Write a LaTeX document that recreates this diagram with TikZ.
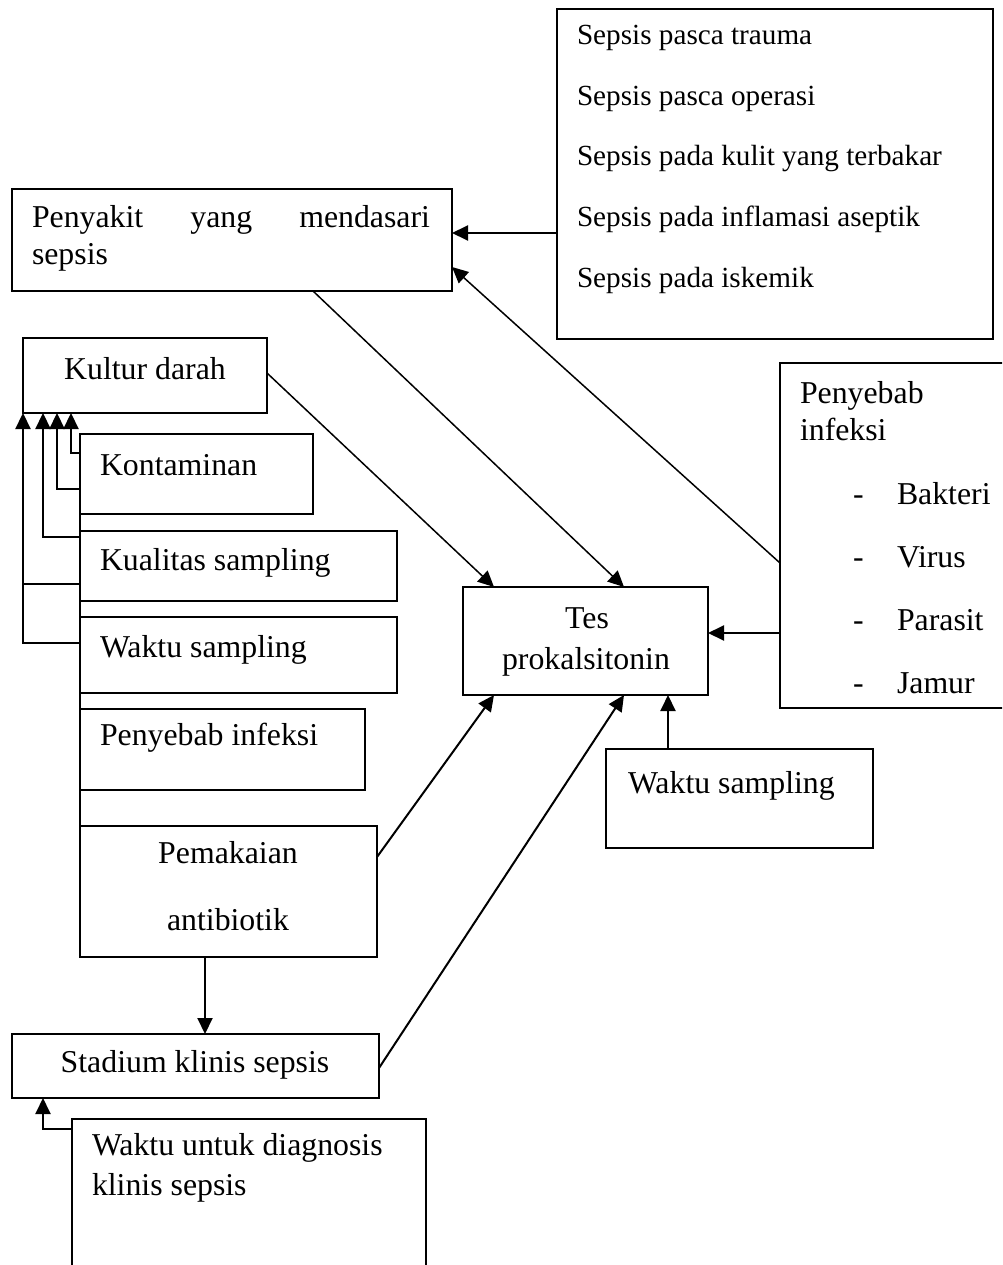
\documentclass[tikz,border=0pt]{standalone}
\usepackage{fontspec}
\setmainfont{Liberation Serif}
\usetikzlibrary{arrows.meta}

\newcommand\mainsz{\fontsize{31.8pt}{40pt}\selectfont}
\newcommand\listsz{\fontsize{29.2pt}{36pt}\selectfont}

\tikzset{
  frame/.style={draw, line width=1.6pt, inner sep=0pt, outer sep=0pt, anchor=north west},
  txt/.style={inner sep=0pt, outer sep=0pt, anchor=base west, font=\mainsz},
  txtc/.style={txt, anchor=base},
  listtxt/.style={txt, font=\listsz},
  tip/.style={-{Triangle[length=16pt,width=15pt]}},
  arr/.style={line width=2pt, tip},
  diag/.style={line width=1.5pt, tip},
  link/.style={line width=2.2pt},
}

% frame node from its top-left corner (x1,y1) to its bottom-right corner (x2,y2)
\newcommand\frameat[5]{%
  \node[frame, minimum width={(#4)-(#2)}, minimum height={(#5)-(#3)}] (#1) at (#2,#3) {};}

\begin{document}
\begin{tikzpicture}[x=1pt, y=-1pt]
\clip (0,0) rectangle (1002,1265);
\fill[white] (0,0) rectangle (1002,1265);

% ---------- boxes ----------
\frameat{trauma}{557}{9}{993}{339}
\frameat{penyakit}{12}{189}{452}{291}
\frameat{kultur}{23}{338}{267}{413}
\frameat{kontam}{80}{434}{313}{514}
\frameat{kualitas}{80}{531}{397}{601}
\frameat{waktuL}{80}{617}{397}{693}
\frameat{penyebabL}{80}{709}{365}{790}
\frameat{pemakaian}{80}{826}{377}{957}
\frameat{stadium}{12}{1034}{379}{1098}
\frameat{diagnosis}{72}{1119}{426}{1320}
\frameat{tes}{463}{587}{708}{695}
\frameat{infeksi}{780}{363}{1040}{708}
\frameat{waktuR}{606}{749}{873}{848}

% ---------- texts ----------
\node[listtxt] (t1) at (577,45)  {Sepsis pasca trauma};
\node[listtxt] (t2) at (577,106) {Sepsis pasca operasi};
\node[listtxt] (t3) at (577,166) {Sepsis pada kulit yang terbakar};
\node[listtxt] (t4) at (577,226) {Sepsis pada inflamasi aseptik};
\node[listtxt] (t5) at (577,287) {Sepsis pada iskemik};

\node[txt] (p1) at (32,228) {\makebox[398pt][s]{Penyakit yang mendasari}};
\node[txt] (p2) at (32,265) {sepsis};

\node[txtc] (k1) at (145,379) {Kultur darah};
\node[txt] (k2) at (100,475) {Kontaminan};
\node[txt] (k3) at (100,570) {Kualitas sampling};
\node[txt] (k4) at (100,657) {Waktu sampling};
\node[txt] (k5) at (100,745) {Penyebab infeksi};
\node[txtc] (k6) at (228,863) {Pemakaian};
\node[txtc] (k7) at (228,930) {antibiotik};

\node[txtc] (s1) at (195,1072) {Stadium klinis sepsis};
\node[txt] (d1) at (92,1155) {Waktu untuk diagnosis};
\node[txt] (d2) at (92,1195) {klinis sepsis};

\node[txtc] (e1) at (587,628) {Tes};
\node[txtc] (e2) at (586,669) {prokalsitonin};

\node[txt] (i1) at (800,403) {Penyebab};
\node[txt] (i2) at (800,440) {infeksi};
\node[txt] (b1) at (853,504) {-};
\node[txt] (b2) at (853,567) {-};
\node[txt] (b3) at (853,630) {-};
\node[txt] (b4) at (853,693) {-};
\node[txt] (c1) at (897,504) {Bakteri};
\node[txt] (c2) at (897,567) {Virus};
\node[txt] (c3) at (897,630) {Parasit};
\node[txt] (c4) at (897,693) {Jamur};

\node[txt] (w1) at (628,793) {Waktu sampling};

% ---------- connectors ----------
\draw[arr] (trauma.west |- 0,233) -- (penyakit.east |- 0,233);
\draw[diag] (infeksi.west |- 0,563) -- (penyakit.east |- 0,267);
\draw[diag] ([xshift=301pt]penyakit.south west) -- ([xshift=161pt]tes.north west);
\draw[diag] (kultur.east |- 0,373) -- ([xshift=31pt]tes.north west);
\draw[arr] (infeksi.west |- 0,633) -- (tes.east |- 0,633);
\draw[arr] ([xshift=62pt]waktuR.north west) -- ([xshift=205pt]tes.south west);
\draw[arr] (pemakaian.east |- 0,857) -- ([xshift=31pt]tes.south west);
\draw[arr] (stadium.east |- 0,1068) -- ([xshift=161pt]tes.south west);
\draw[arr] ([xshift=125pt]pemakaian.south west) -- ([xshift=193pt]stadium.north west);
\draw[arr] (diagnosis.west |- 0,1129) -| ([xshift=31pt]stadium.south west);

% feedback bus into Kultur darah
\draw[link] (kontam.north west) -- (pemakaian.west |- 0,859);
\draw[link, tip] (kontam.west |- 0,453) -| ([xshift=48pt]kultur.south west);
\draw[link, tip] (kontam.west |- 0,489) -| ([xshift=34pt]kultur.south west);
\draw[link, tip] (kualitas.west |- 0,537) -| ([xshift=20pt]kultur.south west);
\draw[link] (kualitas.west |- 0,584) -- (kultur.west |- 0,584);
\draw[link, tip] (waktuL.west |- 0,643) -| (kultur.south west);
\end{tikzpicture}
\end{document}
